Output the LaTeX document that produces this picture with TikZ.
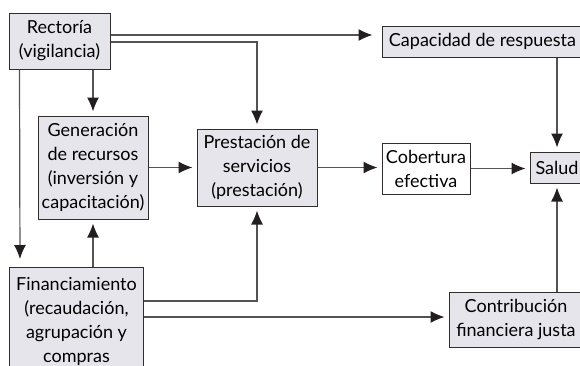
\documentclass[tikz,border=0pt]{standalone}
\usepackage{fontspec}
\setmainfont{Lato}
\usepackage{tikz}
\usetikzlibrary{arrows.meta}
\definecolor{boxfill}{RGB}{229,229,235}
\definecolor{boxline}{RGB}{50,45,45}
\definecolor{linegray}{RGB}{85,82,82}
\definecolor{tipblack}{RGB}{35,31,32}
\tikzset{>={Latex[width=12pt,length=14pt,color=tipblack]}}
\tikzset{
  box/.style={draw=boxline, fill=boxfill, line width=1pt, align=center, inner sep=0pt, font=\fontsize{18}{24}\selectfont},
  link/.style={->, draw=linegray, line width=1.2pt, shorten >=4pt},
}

\begin{document}
\begin{tikzpicture}[x=1pt, y=-1pt]
    \useasboundingbox (0,0) rectangle (580,365);
    \node[box, minimum width=101pt, minimum height=56pt] (rect) at (59.5,41) {Rectoría\\(vigilancia)};
    \node[box, minimum width=201pt, minimum height=31pt] (cap) at (482.5,41.5) {Capacidad de respuesta};
    \node[box, minimum width=110pt, minimum height=103pt] (gen) at (93,167.5) {Generación\\de recursos\\(inversión y\\capacitación)};
    \node[box, minimum width=120pt, minimum height=77pt] (prest) at (257,167.5) {Prestación de\\servicios\\(prestación)};
    \node[box, fill=white, minimum width=88pt, minimum height=51pt] (cob) at (426,168.5) {Cobertura\\efectiva};
    \node[box, minimum width=54pt, minimum height=31pt] (salud) at (557,167.5) {Salud};
    \node[box, anchor=north west, minimum width=134pt, minimum height=108pt] (fin) at (9,267) {Financiamiento\\(recaudación,\\agrupación y\\compras};
    \node[box, minimum width=134pt, minimum height=55pt] (contrib) at (516,319.5) {Contribución\\financiera justa};
    \draw[link, shorten >=9pt] ([yshift=6pt]rect.east) -- ([yshift=6pt]rect.east -| cap.west);
    \draw[link] ([yshift=-1pt]rect.east) -| (prest.north);
    \draw[link] (rect.south -| gen.north) -- (gen.north);
    \draw[link, shorten >=8pt] ([xshift=11pt]rect.south west) -- ([xshift=11pt]fin.north west);
    \draw[link] (gen.east) -- (prest.west);
    \draw[link] (prest.east) -- (prest.east -| cob.west);
    \draw[link] (cob.east) -- (cob.east -| salud.west);
    \draw[link] (cap.south -| salud.north) -- (salud.north);
    \draw[link] (fin.north -| gen.south) -- (gen.south);
    \draw[link] ([yshift=-34pt]fin.north east) -| (prest.south);
    \draw[link] ([yshift=-50pt]fin.north east) -- ([yshift=-50pt]fin.north east -| contrib.west);
    \draw[link] (contrib.north -| salud.south) -- (salud.south);
\end{tikzpicture}
\end{document}
